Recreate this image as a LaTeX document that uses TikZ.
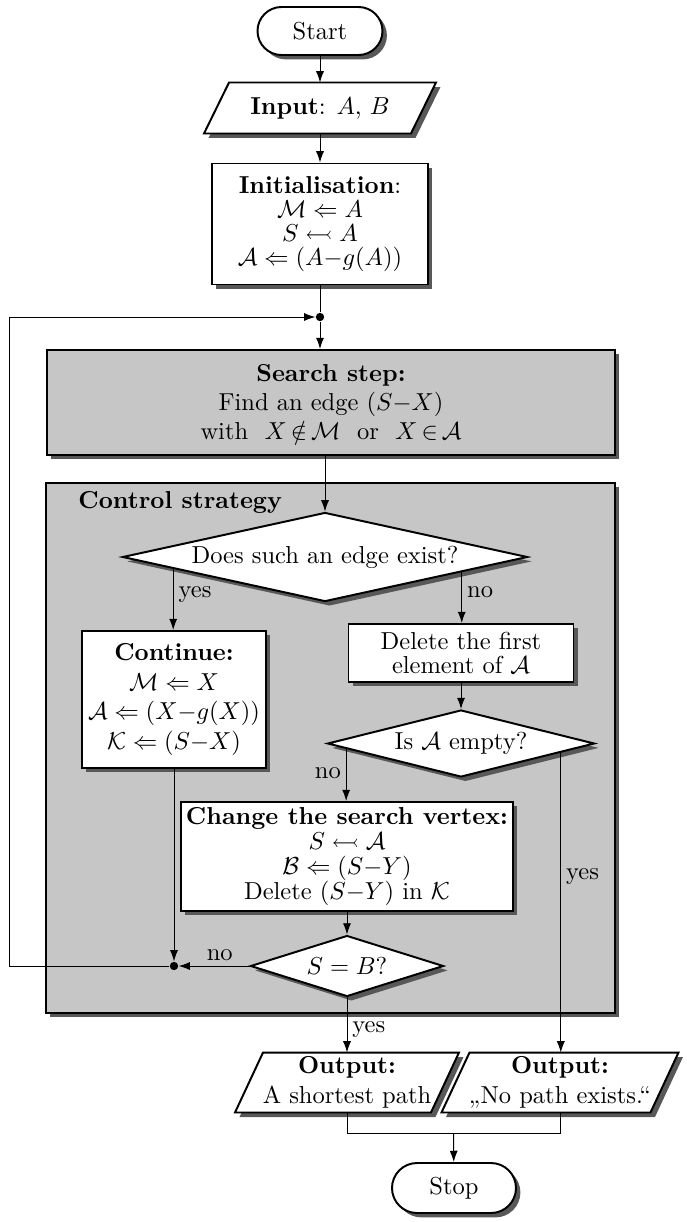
\documentclass[tikz,border=0pt]{standalone}
\usepackage{amsmath,amssymb}
\usepackage{fontspec}
\usetikzlibrary{shapes.geometric,shadows,calc,arrows.meta,backgrounds}

\definecolor{panelgray}{RGB}{198,198,198}
\definecolor{shadowgray}{RGB}{88,88,88}

\tikzset{
  dims/.style 2 args={minimum width=#1*0.408pt, minimum height=#2*0.408pt},
  castshadow/.style={drop shadow={shadow xshift=1.8pt, shadow yshift=-1.8pt, fill=shadowgray, opacity=1}},
  box/.style={rectangle, draw, line width=0.8pt, fill=white, align=center, inner sep=2pt, castshadow},
  panel/.style={box, fill=panelgray},
  term/.style={box, rounded corners=9.8pt},
  decision/.style={diamond, aspect=4, draw, line width=0.8pt, fill=white, align=center, inner sep=0pt, castshadow},
  iobody/.style={rectangle, align=center, inner sep=0pt},
  junction/.style={circle, fill, inner sep=0pt, minimum size=3.4pt},
  tag/.style={inner sep=2pt},
}

\begin{document}
\begin{tikzpicture}[x=0.408pt, y=-0.408pt, >={Latex[length=4.6pt,width=3.3pt]}, line width=0.4pt]
\useasboundingbox (0,0) rectangle (686,1222);

% control strategy panel (drawn first, everything inside sits on top)
\node[panel, dims={569}{530}] (ctrl) at (330.5,748) {};
\node[font=\bfseries, anchor=west, inner sep=0pt] (ctrltitle) at (78,502) {Control strategy};

% upper chain
\node[term, dims={125}{48}] (start) at (320,31) {Start};
\node[iobody, dims={206}{50}] (input) at (320,108) {\textbf{Input}: $A$, $B$};
\node[box, dims={216}{121}] (init) at (320,224)
  {\textbf{Initialisation}:\\[-2.2pt] $\mathcal{M}\Leftarrow A$\\[-2.2pt] $S\leftarrowtail A$\\[-2.2pt] $\mathcal{A}\Leftarrow(A{-}g(A))$};
\node[junction] (j1) at (320,317) {};
\node[panel, dims={568}{105}] (search) at (331,402.5)
  {\textbf{Search step:}\\ Find an edge $(S{-}X)$\\ with\ \ $X\,{\notin}\,\mathcal{M}$\ \ or\ \ $X\,{\in}\,\mathcal{A}$};

% control strategy contents
\node[decision, dims={405}{87}] (d1) at (325,557) {Does such an edge exist?};
\node[box, dims={184}{137}] (cont) at (174,699.5)
  {\textbf{Continue:}\\ $\mathcal{M}\Leftarrow X$\\ $\mathcal{A}\Leftarrow(X{-}g(X))$\\ $\mathcal{K}\Leftarrow(S{-}X)$};
\node[box, dims={225}{58}] (del) at (461,653) {Delete the first\\[-2.2pt] element of $\mathcal{A}$};
\node[decision, dims={267}{67}] (d2) at (461,743.5) {Is $\mathcal{A}$ empty?};
\node[box, dims={311}{109}] (chg) at (347,856.5)
  {\textbf{Change the search vertex:}\\[-1.8pt] $S\leftarrowtail\mathcal{A}$\\[-1.8pt] $\mathcal{B}\Leftarrow(S{-}Y)$\\[-1.8pt] Delete $(S{-}Y)$ in $\mathcal{K}$};
\node[decision, dims={193}{61}] (d3) at (347,966) {$S=B$?};
\node[junction] (j2) at (174,966) {};

% outputs and end
\node[iobody, dims={195}{59}] (out1) at (347,1082.5) {\textbf{Output:}\\ A shortest path};
\node[iobody, dims={208}{59}] (out2) at (560,1082.5) {\textbf{Output:}\\ „No path exists.“};
\node[term, dims={124}{50}, rounded corners=10.2pt] (stop) at (454,1188) {Stop};

% parallelogram outlines for the input/output nodes
\begin{scope}[on background layer]
\foreach \n/\s in {input/25,out1/28,out2/28}{
  \fill[shadowgray] ($(\n.north west)+(\s/2+4.5,4.5)$) -- ($(\n.north east)+(\s/2+4.5,4.5)$)
     -- ($(\n.south east)+(-\s/2+4.5,4.5)$) -- ($(\n.south west)+(-\s/2+4.5,4.5)$) -- cycle;
  \draw[line width=0.8pt, fill=white] ($(\n.north west)+(\s/2,0)$) -- ($(\n.north east)+(\s/2,0)$)
     -- ($(\n.south east)+(-\s/2,0)$) -- ($(\n.south west)+(-\s/2,0)$) -- cycle;
}
\end{scope}

% exit points on the decision borders
\coordinate (d1yes) at ($(d1.west)!0.254!(d1.south)$);
\coordinate (d1no) at ($(d1.south)!0.672!(d1.east)$);
\coordinate (d2no) at ($(d2.west)!0.146!(d2.south)$);
\coordinate (d2yes) at ($(d2.south)!0.742!(d2.east)$);
\coordinate (loopx) at (9,0);
\coordinate (merge) at ($(out1.south)!0.5!(out2.south)+(0,21)$);

% connectors
\draw[->] (start) -- (input);
\draw[->] (input) -- (init);
\draw (init) -- (j1);
\draw[->] (j1) -- (j1 |- search.north);
\draw[->] (search.south -| d1.north) -- (d1.north);
\draw[->] (d1yes) -- (d1yes |- cont.north) node[tag, pos=0.43, right] (lyes1) {yes};
\draw[->] (d1no) -- (d1no |- del.north) node[tag, pos=0.4, right] (lno1) {no};
\draw[->] (del) -- (d2);
\draw[->] (d2no) -- (d2no |- chg.north) node[tag, pos=0.46, left] (lno2) {no};
\draw[->] (d2yes) -- (d2yes |- out2.north) node[tag, pos=0.415, right] (lyes2) {yes};
\draw[->] (chg.south -| d3.north) -- (d3.north);
\draw[->] (d3.west) -- (j2) node[tag, pos=0.42, above] (lno3) {no};
\draw[->] (cont) -- (j2);
\draw[->] (d3.south) -- (out1.north) node[tag, pos=0.59, right] (lyes3) {yes};
\draw[->] (j2) -- (j2 -| loopx) -- (loopx |- j1) -- (j1);
\draw (out1.south) -- (out1.south |- merge) -- (out2.south |- merge) -- (out2.south);
\draw[->] (merge) -- (stop);
\end{tikzpicture}
\end{document}
